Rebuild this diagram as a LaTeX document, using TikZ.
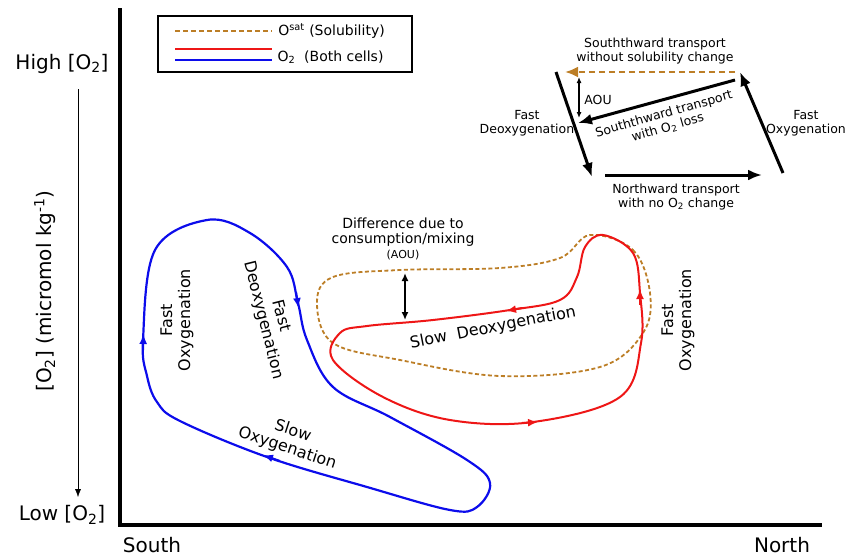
\documentclass[tikz,border=0pt]{standalone}
\usepackage{fontspec}
\setmainfont{DejaVu Sans}
\usepackage{tikz}
\usepackage{xcolor}
\usetikzlibrary{arrows.meta}
\definecolor{satbrown}{RGB}{188,126,38}
\definecolor{loopblue}{RGB}{12,12,235}
\definecolor{loopred}{RGB}{238,22,22}

\begin{document}
\begin{tikzpicture}[x=1pt,y=-1pt,
        big/.style={font=\fontsize{20}{23}\selectfont},
        lab/.style={font=\fontsize{16}{18}\selectfont, align=center},
        small/.style={font=\fontsize{12.5}{14}\selectfont, align=center},
        tip/.style={-{Latex[length=10pt,width=8pt]}},
        heavy/.style={line width=3pt, -{Latex[length=14pt,width=11pt]}}]
                \useasboundingbox (0,0) rectangle (858,557);
                % axes and axis labels
                \draw[line width=3.5pt, line join=miter](120,8) -- (120,525) -- (822,525);
                \node[big] (high) at (62,64) {High [O\textsubscript{2}]};
                \node[big] (low) at (62,515) {Low [O\textsubscript{2}]};
                \draw[-{Latex[length=8pt,width=6pt]}, thin](high.south -| 78,0) ++(0,12) coordinate (ytop) -- (78,497) coordinate (ybot);
                \node[big, rotate=90] (ylab) at (45,291) {[O\textsubscript{2}] (micromol kg\textsuperscript{-1})};
                \node[big] (south) at (152,545) {South};
                \node[big] (north) at (782,545) {North};
                % legend
                \draw[line width=1.2pt](158,16) rectangle (412,72);
                \draw[satbrown, line width=2pt, dash pattern=on 5pt off 3pt](175,31) -- (272,31)
                    node[right, black, font=\fontsize{14}{16}\selectfont, xshift=2pt] (legsat) {O\textsuperscript{sat} (Solubility)};
                \draw[loopred, line width=2pt](175,49) -- (272,49);
                \draw[loopblue, line width=2pt](175,60) -- (272,60);
                \node[right, font=\fontsize{14}{16}\selectfont] (legox) at (274,57) {O\textsubscript{2}\ \ (Both cells)};
                % schematic, top right
                \coordinate (sa) at (735,72); \coordinate (sb) at (565,72);
                \coordinate (sc) at (735,80); \coordinate (sd) at (578,123);
                \coordinate (se) at (556,72); \coordinate (sf) at (592,177);
                \coordinate (sg) at (605,175); \coordinate (sh) at (762,175);
                \coordinate (si) at (783,173); \coordinate (sj) at (740,72);
                \draw[satbrown, line width=2.5pt, dash pattern=on 6pt off 4pt, -{Latex[length=13pt,width=11pt]}](sa) -- (sb);
                \draw[heavy](sc) -- (sd);
                \draw[heavy](se) -- (sf);
                \draw[heavy](sg) -- (sh);
                \draw[heavy](si) -- (sj);
                \draw[line width=1.2pt, {Latex[length=6pt,width=5pt]}-{Latex[length=6pt,width=5pt]}](579,77) -- (579,118);
                \node[small] (aou) at (598,100) {AOU};
                \node[small] (nosol) at (655,51) {Souththward transport\\without solubility change};
                \node[small, rotate=16] (loss) at (666,121) {Souththward transport\\with O\textsubscript{2} loss};
                \node[small] (fdeox) at (527,123) {Fast\\Deoxygenation};
                \node[small] (fox) at (806,123) {Fast\\Oxygenation};
                \node[small] (north tr) at (676,197) {Northward transport\\with no O\textsubscript{2} change};
                % blue loop
                \draw[loopblue, line width=2.2pt] plot[smooth cycle, tension=0.6] coordinates {
                    (143,340) (155,250) (207,220) (250,233) (287,267) (298,303) (307,340)
                    (333,387) (390,417) (467,460) (490,483) (477,507) (450,510) (367,487)
                    (267,457) (180,421) (157,402) (147,376)};
                \draw[loopblue, line width=2pt, tip](143,350) -- (143.5,334);
                \draw[loopblue, line width=2pt, tip](296,292) -- (298.5,308);
                \draw[loopblue, line width=2pt, tip](280,461) -- (263,455);
                % solubility loop
                \draw[satbrown, line width=1.8pt, dash pattern=on 4pt off 2.5pt] plot[smooth cycle, tension=0.6] coordinates {
                    (590,235) (633,250) (650,293) (643,333) (600,367) (500,376) (400,360)
                    (333,343) (317,303) (333,277) (400,270) (500,268) (560,258)};
                % red loop
                \draw[loopred, line width=2pt] plot[smooth cycle, tension=0.6] coordinates {
                    (603,235) (633,253) (640,293) (641,343) (620,397) (533,422) (450,420)
                    (383,397) (333,360) (340,333) (367,326) (433,320) (510,310) (560,300)
                    (577,277) (585,247)};
                \draw[loopred, line width=2pt, tip](640,305) -- (640,289);
                \draw[loopred, line width=2pt, tip](522,308) -- (506,311);
                \draw[loopred, line width=2pt, tip](522,423) -- (538,422);
                % AOU in the loops
                \draw[line width=2pt, {Latex[length=8pt,width=7pt]}-{Latex[length=8pt,width=7pt]}](405,273) -- (405,320);
                \node[font=\fontsize{14}{15}\selectfont, align=center] (diff) at (403,239)
                    {Difference due to\\consumption/mixing\\{\fontsize{11}{12}\selectfont (AOU)}};
                % loop labels
                \node[lab, rotate=90] (fastox) at (177,320) {Fast\\Oxygenation};
                \node[lab, rotate=-76] (fastdeox) at (272,318) {Fast\\Deoxygenation};
                \node[lab, rotate=-18] (slowox) at (290,440) {Slow\\Oxygenation};
                \node[lab, rotate=11] (slowdeox) at (493,328) {Slow\ \ Deoxygenation};
                \node[lab, rotate=90] (fastox2) at (678,320) {Fast\\Oxygenation};
            \end{tikzpicture}
\end{document}
